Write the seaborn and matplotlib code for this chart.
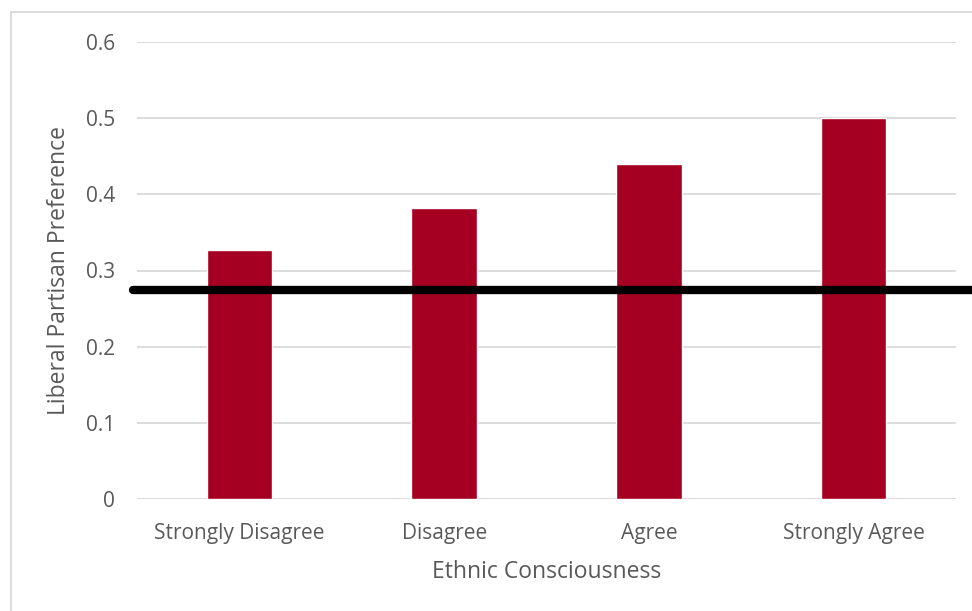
import matplotlib
matplotlib.use("Agg")
import matplotlib.pyplot as plt
import seaborn as sns
import pandas as pd
from matplotlib.patches import Rectangle

categories = ["Strongly Disagree", "Disagree", "Agree", "Strongly Agree"]
values = [0.327, 0.382, 0.440, 0.500]
baseline = 0.274
yticks = [0, 0.1, 0.2, 0.3, 0.4, 0.5, 0.6]
ytick_labels = ["0", "0.1", "0.2", "0.3", "0.4", "0.5", "0.6"]

sns.set_theme(style="white")
plt.rcParams['font.family'] = ['Open Sans', 'DejaVu Sans']

W, H = 972, 611
fig = plt.figure(figsize=(W / 100, H / 100), dpi=100)
ax = fig.add_axes([137 / W, 1 - 499 / H, (956 - 137) / W, (499 - 42) / H])

df = pd.DataFrame({"cat": categories, "val": values})
sns.barplot(data=df, x="cat", y="val", color="#A50021", saturation=1, width=0.32, ax=ax, zorder=3)

ax.set_ylim(0, 0.6)
ax.set_xlim(-0.5, 3.5)
ax.set_yticks(yticks)
ax.set_yticklabels(ytick_labels)
ax.yaxis.grid(True, color="#D9D9D9", linewidth=1.3, zorder=0)
ax.set_axisbelow(True)
for s in ax.spines.values():
    s.set_visible(False)
ax.tick_params(axis="both", length=0, colors="#595959", labelsize=15)
ax.tick_params(axis="y", pad=16)
ax.tick_params(axis="x", pad=17.5)
ax.set_xlabel("Ethnic Consciousness", fontsize=16.5, color="#595959", labelpad=11)
ax.set_ylabel("Liberal Partisan Preference", fontsize=16.5, color="#595959")
ax.yaxis.set_label_coords((71 - 137) / 819, 0.5)

# black reference line extending past the plot area
ax.axhline(baseline, xmin=-0.005, xmax=1.03, color="black", linewidth=6, zorder=5, clip_on=False)

# figure border
fig.patches.append(Rectangle((11 / W, -0.1), 1.2, 1 - 12 / H + 0.1, transform=fig.transFigure,
                             fill=False, edgecolor="#D9D9D9", linewidth=1.3))

fig.savefig("out.png", dpi=100, facecolor="white")
